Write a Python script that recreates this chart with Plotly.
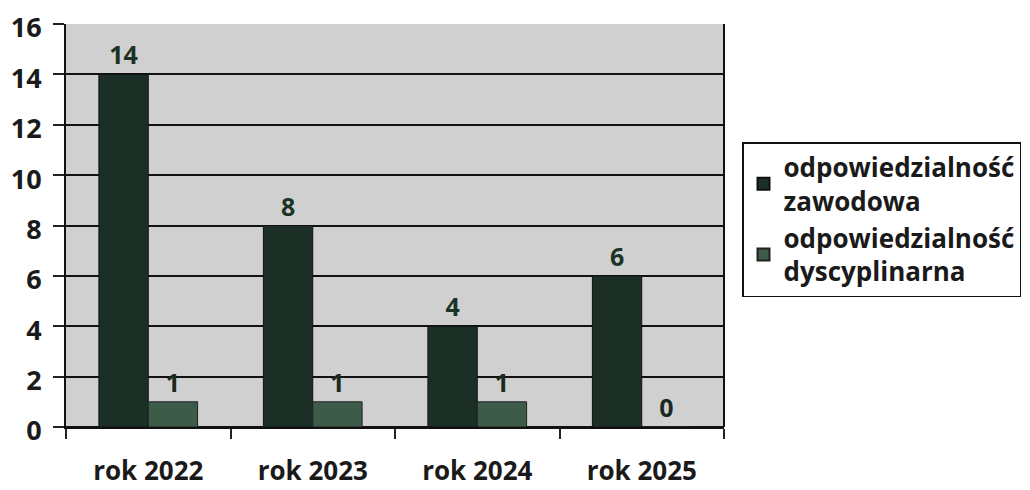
import plotly.graph_objects as go

categories = ["rok 2022", "rok 2023", "rok 2024", "rok 2025"]
zawodowa = [14, 8, 4, 6]
dyscyplinarna = [1, 1, 1, 0]
series_names = ["odpowiedzialność<br>zawodowa", "odpowiedzialność<br>dyscyplinarna"]
y_ticks = [0, 2, 4, 6, 8, 10, 12, 14, 16]

FONT = "Open Sans"
W, H = 1022, 482
fig = go.Figure()
fig.add_trace(go.Bar(
    x=categories, y=zawodowa, name=series_names[0],
    marker=dict(color="#1c2f26", line=dict(color="#111111", width=1)),
    text=[str(v) for v in zawodowa], textposition="outside", cliponaxis=False,
    textfont=dict(family=FONT, size=25, color="#1b3325", weight="bold"),
))
fig.add_trace(go.Bar(
    x=categories, y=dyscyplinarna, name=series_names[1],
    marker=dict(color="#3d5b49", line=dict(color="#222222", width=1)),
    text=[str(v) for v in dyscyplinarna], textposition="outside", cliponaxis=False,
    textfont=dict(family=FONT, size=25, color="#1b2a20", weight="bold"),
))

fig.update_layout(
    width=W, height=H,
    margin=dict(l=58, r=306, t=16, b=63),
    paper_bgcolor="white", plot_bgcolor="#d0d0d0",
    barmode="group", bargap=0.4, bargroupgap=0,
    font=dict(family=FONT, color="#1a1a1a"),
    showlegend=True,
    legend=dict(
        xref="container", yref="container",
        x=734 / W, y=1 - 134 / H, xanchor="left", yanchor="top",
        bordercolor="#111111", borderwidth=1.5, bgcolor="white",
        font=dict(family=FONT, size=26, color="#1a1a1a", weight="bold"),
        itemsizing="constant", tracegroupgap=16,
    ),
    xaxis=dict(
        automargin=False,
        tickson="boundaries", ticks="outside", ticklen=10, tickwidth=2, tickcolor="#222",
        showline=True, linecolor="#111", linewidth=2,
        tickfont=dict(family=FONT, size=26, color="#1a1a1a", weight="bold"),
        ticklabelstandoff=20, ticklabeloverflow="allow",
        showgrid=False,
    ),
    yaxis=dict(
        automargin=False,
        range=[0, 16], tickvals=y_ticks, ticks="outside", ticklen=11, tickwidth=2,
        tickcolor="#222", showline=True, linecolor="#111", linewidth=2, mirror=False,
        gridcolor="#111", gridwidth=2, zeroline=True, zerolinecolor="#111", zerolinewidth=2,
        tickfont=dict(family=FONT, size=27, color="#1a1a1a", weight="bold"),
        ticklabelstandoff=6, ticklabeloverflow="allow", ticklabelshift=4,
    ),
)
fig.add_shape(type="line", xref="paper", yref="paper", x0=1, x1=1, y0=0, y1=1,
              line=dict(color="#111", width=2))

fig.write_html("out.html")
